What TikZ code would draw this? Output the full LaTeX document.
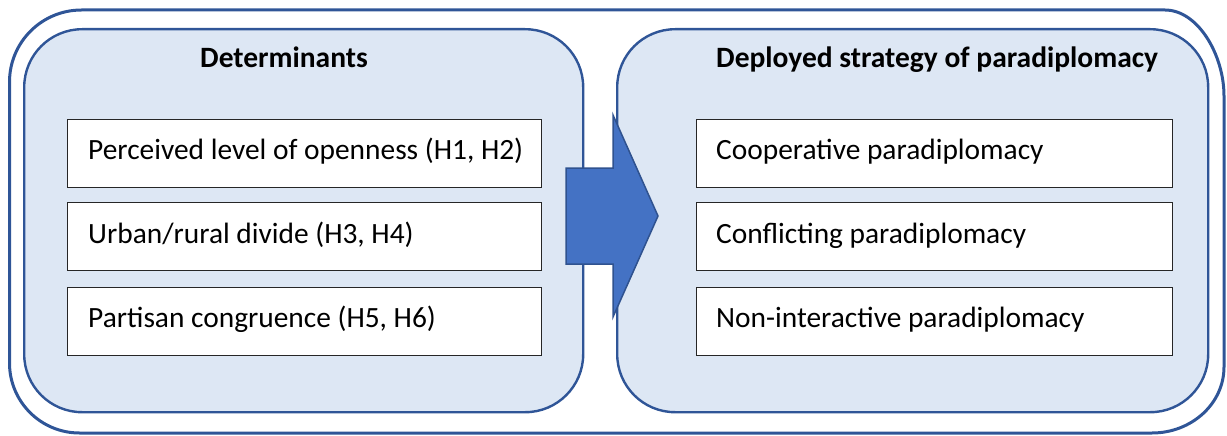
\documentclass[tikz,border=0pt]{standalone}
\usepackage{fontspec}
\setmainfont{Carlito}
\definecolor{frameblue}{HTML}{2F5597}
\definecolor{panelfill}{HTML}{DDE7F4}
\definecolor{arrowfill}{HTML}{4472C4}
\definecolor{arrowline}{HTML}{2F528F}
\definecolor{boxline}{HTML}{262626}
\tikzset{
  panel/.style={draw=frameblue, line width=2.4pt, fill=panelfill, rounded corners=58pt,
    rectangle, inner sep=0pt, anchor=north west},
  itembox/.style={draw=boxline, line width=1.2pt, fill=white, rectangle, inner sep=0pt,
    anchor=north west, minimum height=68pt},
  itemtext/.style={anchor=base west, inner sep=0pt, font=\fontsize{29.4}{34}\selectfont},
  heading/.style={anchor=base west, inner sep=0pt, font=\fontsize{29.5}{34}\selectfont\bfseries},
}
\begin{document}
\begin{tikzpicture}[x=1pt, y=-1pt]
\useasboundingbox (0,0) rectangle (1227,436);

% outer frame
\draw[frameblue, line width=3pt]
  (81.5,10) -- (1165,10)
  .. controls (1198,10) and (1224,55) .. (1224,96)
  -- (1224,367)
  .. controls (1224,403.5) and (1191.8,433) .. (1152,433)
  -- (79.5,433)
  .. controls (40.8,433) and (9.5,401.7) .. (9.5,363)
  -- (9.5,82)
  .. controls (9.5,42.2) and (41.7,10) .. (81.5,10) -- cycle;

% the two panels
\node[panel, minimum width=559pt, minimum height=383pt] (left) at (23,28) {};
\node[panel, minimum width=591pt, minimum height=383pt] (right) at (616,28) {};

% block arrow between the panels
\draw[arrowline, fill=arrowfill, line width=1.5pt, line join=miter]
  (566,168) -- (613,168) -- (613,115) -- (658,216) -- (613,317) -- (613,264) -- (566,264) -- cycle;

% headings
\node[heading] (hleft) at (200,67) {Determinants};
\node[heading] (hright) at (716,67) {Deployed strategy of paradiplomacy};

% determinant boxes
\node[itembox, minimum width=474pt] (d1) at (67,118.5) {};
\node[itembox, minimum width=474pt] (d2) at (67,202) {};
\node[itembox, minimum width=474pt] (d3) at (67,286.5) {};
\node[itemtext] (t1) at (88,159) {Perceived level of openness (H1, H2)};
\node[itemtext] (t2) at (88,243) {Urban/rural divide (H3, H4)};
\node[itemtext] (t3) at (88,327.5) {Partisan congruence (H5, H6)};

% strategy boxes
\node[itembox, minimum width=476pt] (s1) at (695.5,118.5) {};
\node[itembox, minimum width=476pt] (s2) at (695.5,202) {};
\node[itembox, minimum width=476pt] (s3) at (695.5,286.5) {};
\node[itemtext] (u1) at (716,159) {Cooperative paradiplomacy};
\node[itemtext] (u2) at (716,243) {Conflicting paradiplomacy};
\node[itemtext] (u3) at (716,327.5) {Non-interactive paradiplomacy};
\end{tikzpicture}
\end{document}
